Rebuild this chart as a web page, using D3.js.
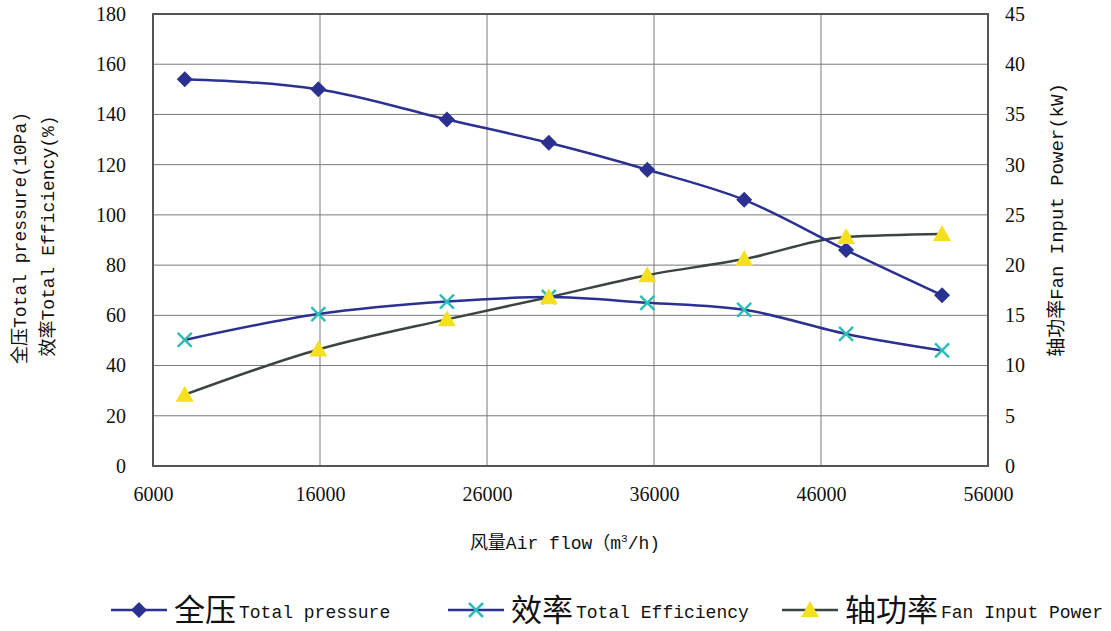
<!DOCTYPE html>
<html><head><meta charset="utf-8">
<script src="https://cdn.jsdelivr.net/npm/d3@7"></script>
<style>body{margin:0;background:#fff}svg{display:block}</style>
</head><body>
<svg id="c" width="1111" height="631"></svg>
<script>
const airflow = [7900, 15900, 23600, 29700, 35600, 41400, 47500, 53250];
const pressure = [154, 150, 138, 128.7, 118, 106, 86, 68];
const efficiency = [50.2, 60.5, 65.5, 67.3, 65, 62.2, 52.6, 46];
const power = [7.1, 11.6, 14.6, 16.8, 19.0, 20.6, 22.8, 23.1];
const xTicks = [6000, 16000, 26000, 36000, 46000, 56000];
const yLeftTicks = [0, 20, 40, 60, 80, 100, 120, 140, 160, 180];
const yRightTicks = [0, 5, 10, 15, 20, 25, 30, 35, 40, 45];

const svg = d3.select("#c");
const L = 153, R = 988, T = 14, B = 466;
const x = d3.scaleLinear().domain([6000, 56000]).range([L, R]);
const yL = d3.scaleLinear().domain([0, 180]).range([B, T]);
const yR = d3.scaleLinear().domain([0, 45]).range([B, T]);
const mono = "'Liberation Mono','Noto Sans CJK SC',monospace";
const serif = "'Liberation Serif',serif";

// grid
const g = svg.append("g");
g.selectAll(".hg").data(yLeftTicks).join("line")
  .attr("x1", L).attr("x2", R).attr("y1", d => yL(d)).attr("y2", d => yL(d))
  .attr("stroke", "#7a7a7a").attr("stroke-width", 1);
g.selectAll(".vg").data(xTicks).join("line")
  .attr("y1", T).attr("y2", B).attr("x1", d => x(d)).attr("x2", d => x(d))
  .attr("stroke", "#7a7a7a").attr("stroke-width", 1);
g.append("rect").attr("x", L).attr("y", T).attr("width", R - L).attr("height", B - T)
  .attr("fill", "none").attr("stroke", "#555").attr("stroke-width", 2);

// axes (labels only)
const axL = d3.axisLeft(yL).tickValues(yLeftTicks).tickSize(0).tickPadding(27);
const axR = d3.axisRight(yR).tickValues(yRightTicks).tickSize(0).tickPadding(17);
const axB = d3.axisBottom(x).tickValues(xTicks).tickSize(0).tickPadding(21).tickFormat(d3.format("d"));
function style(sel){ sel.select(".domain").remove(); sel.selectAll("text").attr("font-family", serif).attr("font-size", 20).attr("fill", "#111"); }
svg.append("g").attr("transform", `translate(${L},0)`).call(axL).call(style);
svg.append("g").attr("transform", `translate(${R},0)`).call(axR).call(style).selectAll("text").attr("text-anchor","start");
svg.append("g").attr("transform", `translate(0,${B})`).call(axB).call(style);

// axis titles
svg.append("text").attr("transform", "translate(26,238) rotate(-90)").attr("text-anchor", "middle")
  .attr("font-family", mono).attr("font-size", 18).attr("fill", "#111").text("全压Total pressure(10Pa)");
svg.append("text").attr("transform", "translate(54,236) rotate(-90)").attr("text-anchor", "middle")
  .attr("font-family", mono).attr("font-size", 18).attr("fill", "#111").text("效率Total Efficiency(%)");
svg.append("text").attr("transform", "translate(1063,220) rotate(-90)").attr("text-anchor", "middle")
  .attr("font-family", mono).attr("font-size", 19).attr("fill", "#111").text("轴功率Fan Input Power(kW)");
const xt = svg.append("text").attr("x", 565).attr("y", 549).attr("text-anchor", "middle")
  .attr("font-family", mono).attr("font-size", 18).attr("fill", "#111");
xt.append("tspan").text("风量Air flow（m");
xt.append("tspan").attr("dy", -7).attr("font-size", 11).text("3");
xt.append("tspan").attr("dy", 7).text("/h)");

// series
const NAVY = "#2b3190", CYAN = "#2fbdb8", DARK = "#3a4540", YEL = "#f5e020";
const curve = d3.curveMonotoneX;
function linePath(ys, scale){ return d3.line().x((d,i)=>x(airflow[i])).y(d=>scale(d)).curve(curve)(ys); }
svg.append("path").attr("d", linePath(power, yR)).attr("fill","none").attr("stroke",DARK).attr("stroke-width",2.5);
svg.append("path").attr("d", linePath(efficiency, yL)).attr("fill","none").attr("stroke",NAVY).attr("stroke-width",2.5);
svg.append("path").attr("d", linePath(pressure, yL)).attr("fill","none").attr("stroke",NAVY).attr("stroke-width",2.5);

const diamond = "M0,-8L8,0L0,8L-8,0Z";
const tri = "M0,-9L9,7L-9,7Z";
const cross = "M-7,-7L7,7M-7,7L7,-7";
svg.selectAll(".pm").data(pressure).join("path").attr("d", diamond)
  .attr("transform", (d,i)=>`translate(${x(airflow[i])},${yL(d)})`).attr("fill", NAVY);
svg.selectAll(".em").data(efficiency).join("path").attr("d", cross)
  .attr("transform", (d,i)=>`translate(${x(airflow[i])},${yL(d)})`).attr("stroke", CYAN).attr("stroke-width", 2.5).attr("fill","none");
svg.selectAll(".wm").data(power).join("path").attr("d", tri)
  .attr("transform", (d,i)=>`translate(${x(airflow[i])},${yR(d)})`).attr("fill", YEL);

// legend
const legend = [
  {cn:"全压", en:"Total pressure", color:NAVY, mk:"d", lx:111},
  {cn:"效率", en:"Total Efficiency", color:NAVY, mk:"x", lx:448},
  {cn:"轴功率", en:"Fan Input Power", color:DARK, mk:"t", lx:782}
];
const ly = 610;
legend.forEach(it => {
  const gg = svg.append("g");
  gg.append("line").attr("x1", it.lx).attr("x2", it.lx+56).attr("y1", ly).attr("y2", ly).attr("stroke", it.color).attr("stroke-width", 2.5);
  const cx = it.lx + 28;
  if (it.mk==="d") gg.append("path").attr("d", diamond).attr("transform",`translate(${cx},${ly})`).attr("fill", NAVY);
  if (it.mk==="x") gg.append("path").attr("d", cross).attr("transform",`translate(${cx},${ly})`).attr("stroke", CYAN).attr("stroke-width",2.5);
  if (it.mk==="t") gg.append("path").attr("d", tri).attr("transform",`translate(${cx},${ly})`).attr("fill", YEL);
  const t = gg.append("text").attr("x", it.lx+63).attr("y", ly+11).attr("fill","#111");
  t.append("tspan").attr("font-family","'Noto Sans CJK SC',sans-serif").attr("font-size",31).text(it.cn);
  t.append("tspan").attr("font-family", "'Liberation Mono',monospace").attr("font-size",18).attr("dx",3).attr("dy",-3).text(it.en);
});
</script>
</body></html>
